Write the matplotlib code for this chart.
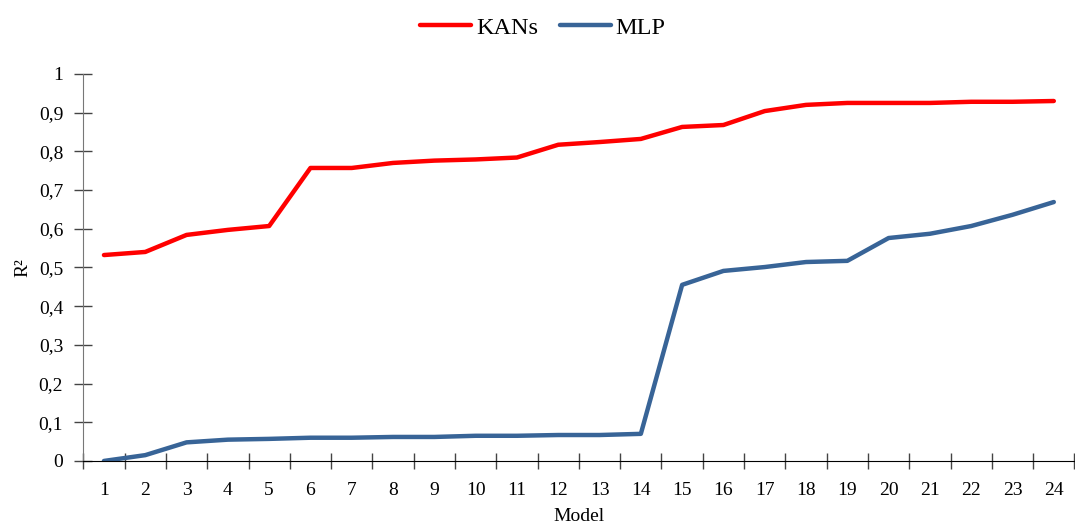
import matplotlib.pyplot as plt
from matplotlib.ticker import FixedLocator, FuncFormatter

plt.rcParams['font.family'] = ['Liberation Serif', 'DejaVu Serif']

models = list(range(1, 25))
kans = [0.532, 0.540, 0.584, 0.597, 0.607, 0.757, 0.757, 0.770, 0.776, 0.779,
        0.784, 0.817, 0.824, 0.832, 0.863, 0.868, 0.904, 0.920, 0.925, 0.925,
        0.925, 0.928, 0.928, 0.930]
mlp = [0.000, 0.015, 0.048, 0.055, 0.057, 0.060, 0.060, 0.062, 0.062, 0.065,
       0.065, 0.067, 0.067, 0.070, 0.455, 0.491, 0.501, 0.514, 0.517, 0.576,
       0.587, 0.607, 0.636, 0.669]
y_ticks = [i / 10 for i in range(11)]


def fmt_y(v, pos):
    if abs(v) < 1e-9:
        return '0'
    if abs(v - 1) < 1e-9:
        return '1'
    return f'{v:.1f}'.replace('.', ',')


fig = plt.figure(figsize=(10.75, 5.28), dpi=100)
ax = fig.add_axes([0.0775, 0.127, 0.922, 0.733])

ax.plot(models, kans, color='#ff0000', lw=3.2, label='KANs', solid_capstyle='round')
ax.plot(models, mlp, color='#386497', lw=3.2, label='MLP', solid_capstyle='round')

ax.set_xlim(0.5, 24.5)
ax.set_ylim(0, 1)

# tick marks sit between categories, labels on the category centres
ax.xaxis.set_major_locator(FixedLocator([m + 0.5 for m in range(0, 25)]))
ax.xaxis.set_major_formatter(FuncFormatter(lambda v, p: ''))
ax.xaxis.set_minor_locator(FixedLocator(models))
ax.xaxis.set_minor_formatter(FuncFormatter(lambda v, p: f'{int(round(v))}'))
ax.tick_params(axis='x', which='major', direction='inout', length=12, width=1, color='#444444')
ax.tick_params(axis='x', which='minor', length=0, pad=15, labelsize=14)

ax.set_yticks(y_ticks)
ax.yaxis.set_major_formatter(FuncFormatter(fmt_y))
ax.tick_params(axis='y', direction='inout', length=13, width=1, color='#444444', labelsize=14, pad=8)

for side in ('top', 'right'):
    ax.spines[side].set_visible(False)
ax.spines['left'].set_color('#777777')
ax.spines['bottom'].set_color('#000000')

ax.set_xlabel('Model', fontsize=14, labelpad=7)
ax.set_ylabel('R²', fontsize=14, labelpad=5)

fig.legend(loc='upper center', bbox_to_anchor=(0.505, 1.01), ncol=2, frameon=False,
           fontsize=17.5, handlelength=2.1, columnspacing=0.9, handletextpad=0.2)

fig.savefig('out.png', dpi=100)
